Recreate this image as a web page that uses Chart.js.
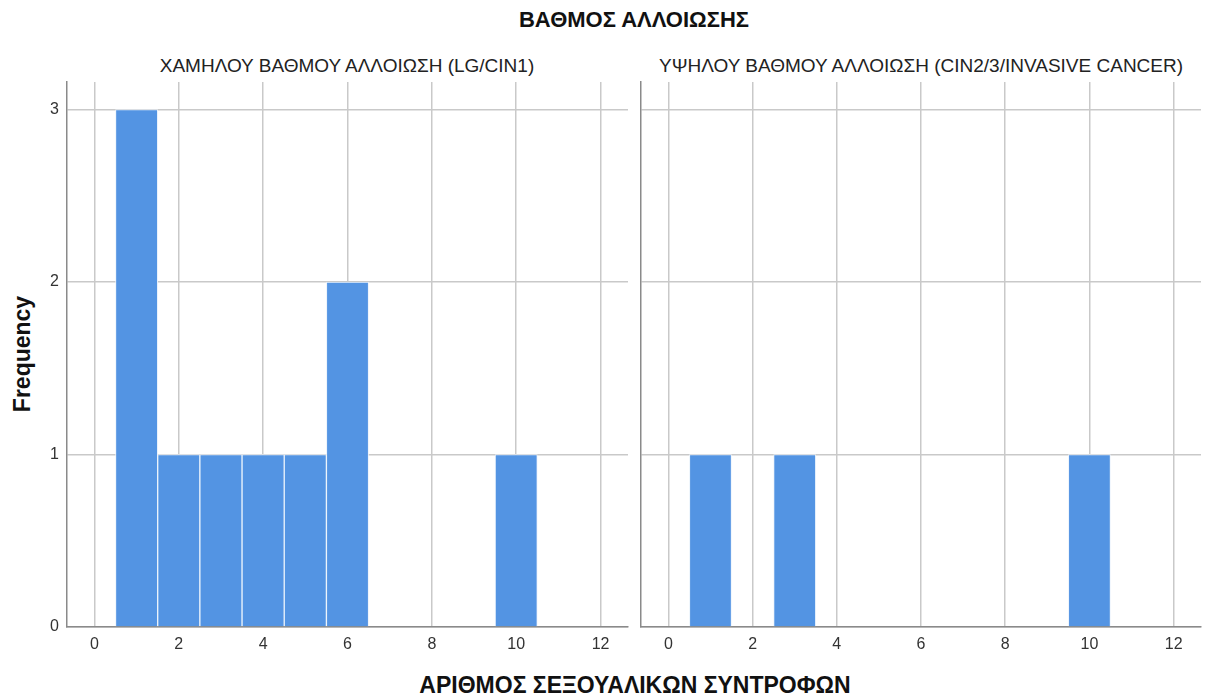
<!DOCTYPE html>
<html>
<head>
<meta charset="utf-8">
<script src="https://cdn.jsdelivr.net/npm/chart.js@4/dist/chart.umd.min.js"></script>
<style>
  body { margin: 0; background: #fff; font-family: "Liberation Sans", Arial, sans-serif; }
  #page { position: relative; width: 1208px; height: 698px; overflow: hidden; }
  .txt { position: absolute; white-space: nowrap; color: #111; transform: translate(-50%, -50%); }
  .bold { font-weight: bold; }
  canvas { position: absolute; }
</style>
</head>
<body>
<div id="page">
  <div class="txt bold" style="left:634px; top:20px; font-size:22px;">ΒΑΘΜΟΣ ΑΛΛΟΙΩΣΗΣ</div>
  <div class="txt" style="left:347px; top:66px; font-size:19px; color:#222;">ΧΑΜΗΛΟΥ ΒΑΘΜΟΥ ΑΛΛΟΙΩΣΗ (LG/CIN1)</div>
  <div class="txt" style="left:921px; top:66px; font-size:19px; color:#222;">ΥΨΗΛΟΥ ΒΑΘΜΟΥ ΑΛΛΟΙΩΣΗ (CIN2/3/INVASIVE CANCER)</div>
  <div class="txt bold" style="left:22px; top:354px; font-size:23px; transform: translate(-50%, -50%) rotate(-90deg);">Frequency</div>
  <div class="txt bold" style="left:635px; top:685px; font-size:23px;">ΑΡΙΘΜΟΣ ΣΕΞΟΥΑΛΙΚΩΝ ΣΥΝΤΡΟΦΩΝ</div>
  <canvas id="lowGrade" width="634" height="658" style="left:0; top:40px;"></canvas>
  <canvas id="highGrade" width="574" height="658" style="left:634px; top:40px;"></canvas>
</div>
<script>
// number of partners (histogram bins, width 1)
const bins = [1, 2, 3, 4, 5, 6, 7, 8, 9, 10];
const lowGradeCounts = [3, 1, 1, 1, 1, 2, 0, 0, 0, 1];
const highGradeCounts = [1, 0, 1, 0, 0, 0, 0, 0, 0, 1];
const xTickValues = [0, 2, 4, 6, 8, 10, 12];
const yTickValues = [0, 1, 2, 3];

const BAR_COLOR = '#5394e3';
const GRID_COLOR = '#c9c9c9';
const AXIS_COLOR = '#8a8a8a';
const TICK_FONT = { family: "'Liberation Sans', Arial, sans-serif", size: 16 };

function makePanel(canvasId, counts, yAxisWidth, showYLabels, rightPad) {
  const points = bins.map((x, i) => ({ x: x, y: counts[i] }));
  return new Chart(document.getElementById(canvasId), {
    type: 'bar',
    data: {
      datasets: [{
        data: points,
        backgroundColor: BAR_COLOR,
        borderColor: 'rgba(235,243,252,0.95)',
        borderWidth: 1,
        barPercentage: 1,
        categoryPercentage: 1
      }]
    },
    options: {
      responsive: false,
      animation: false,
      layout: { padding: { top: 42, right: rightPad, left: 0, bottom: 0 } },
      plugins: { legend: { display: false }, tooltip: { enabled: false } },
      scales: {
        x: {
          type: 'linear',
          min: -0.65,
          max: 12.65,
          offset: false,
          afterBuildTicks: s => { s.ticks = xTickValues.map(v => ({ value: v })); },
          afterFit: s => { s.height = 71; },
          grid: { color: GRID_COLOR, lineWidth: 1.5, drawTicks: false, offset: false },
          border: { color: AXIS_COLOR, width: 1.5 },
          ticks: { color: '#333', font: TICK_FONT, padding: 8, maxRotation: 0 }
        },
        y: {
          min: 0,
          max: 3.16,
          afterBuildTicks: s => { s.ticks = yTickValues.map(v => ({ value: v })); },
          afterFit: s => { s.width = yAxisWidth; },
          grid: { color: GRID_COLOR, lineWidth: 1.5, drawTicks: false },
          border: { color: AXIS_COLOR, width: 1.5 },
          ticks: { display: showYLabels, color: '#333', font: TICK_FONT, padding: 8 }
        }
      }
    }
  });
}

makePanel('lowGrade', lowGradeCounts, 67, true, 6);
makePanel('highGrade', highGradeCounts, 7, false, 7);
</script>
</body>
</html>
